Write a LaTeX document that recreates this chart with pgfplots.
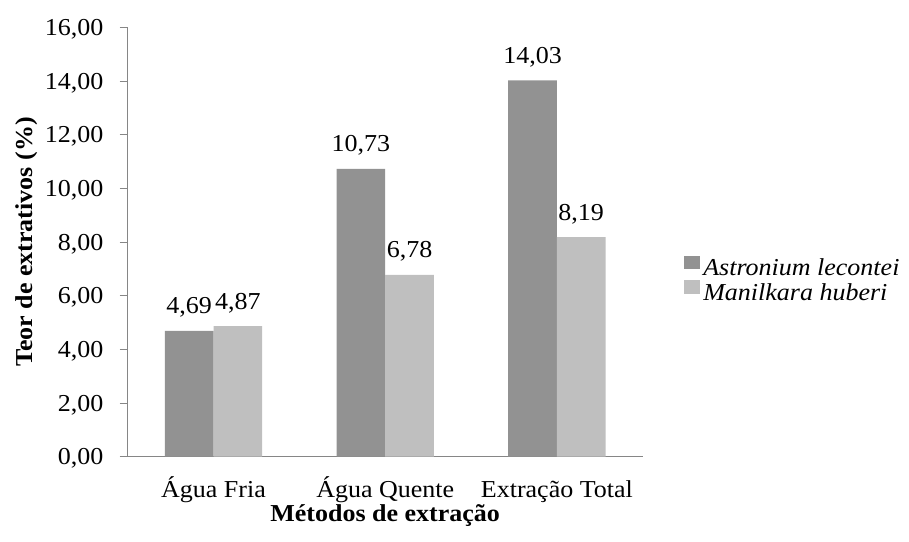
\documentclass[border=0pt]{standalone}
\usepackage{fontspec}
\setmainfont[FakeStretch=1.07]{Liberation Serif}
\usepackage{pgfplots}
\pgfplotsset{compat=1.18}

\definecolor{serA}{HTML}{929292}
\definecolor{serB}{HTML}{BFBFBF}
\definecolor{eixo}{HTML}{868686}

\begin{document}
\fontsize{24.3}{29}\selectfont
\begin{tikzpicture}
\useasboundingbox (0,0) rectangle (909pt,541pt);
\begin{axis}[
    at={(127.7pt,84.3pt)}, anchor=south west,
    scale only axis, width=515pt, height=429.1pt,
    xmin=-0.5, xmax=2.5, ymin=0, ymax=16,
    enlargelimits=false,
    axis x line*=bottom, axis y line*=left,
    axis line style={eixo, line width=1pt, -},
    ybar=0pt, bar width=48.7pt,
    xtick={0,1,2},
    xticklabels={Água Fria, Água Quente, Extração Total},
    x tick style={draw=none},
    ytick={0,2,...,16},
    y tick style={eixo, line width=1pt},
    tick align=outside, major tick length=8pt,
    scaled y ticks=false,
    /pgf/number format/fixed,
    /pgf/number format/fixed zerofill,
    /pgf/number format/precision=2,
    /pgf/number format/use comma,
    /pgf/number format/assume math mode=true,
    yticklabel style={anchor=base east, inner sep=0pt, xshift=-16.2pt, yshift=-8pt},
    xticklabel style={anchor=base, inner sep=0pt, yshift=-33pt},
    ylabel={\bfseries Teor de extrativos (\%)},
    ylabel style={at={(axis description cs:-0.1858,0.5)}, anchor=base, inner sep=0pt},
    xlabel={\bfseries Métodos de extração},
    xlabel style={at={(axis description cs:0.5,-0.1499)}, anchor=base, inner sep=0pt},
    nodes near coords,
    every node near coord/.append style={anchor=base, inner sep=0pt, yshift=17pt},
    legend style={draw=none, fill=none, inner sep=0pt, outer sep=0pt,
        at={(axis description cs:1.0808,0.4687)}, anchor=north west,
        font=\itshape, nodes={inner sep=0pt}, row sep=0.7pt, column sep=3.3pt},
    legend cell align=left,
    legend image code/.code={\fill[#1] (0pt,0pt) rectangle (15.7pt,13.7pt);},
]
\addplot[fill=serA, draw=none] coordinates {(0,4.69) (1,10.73) (2,14.03)};
\addplot[fill=serB, draw=none] coordinates {(0,4.87) (1,6.78) (2,8.19)};
\legend{Astronium lecontei, Manilkara huberi}
\end{axis}
\end{tikzpicture}
\end{document}
